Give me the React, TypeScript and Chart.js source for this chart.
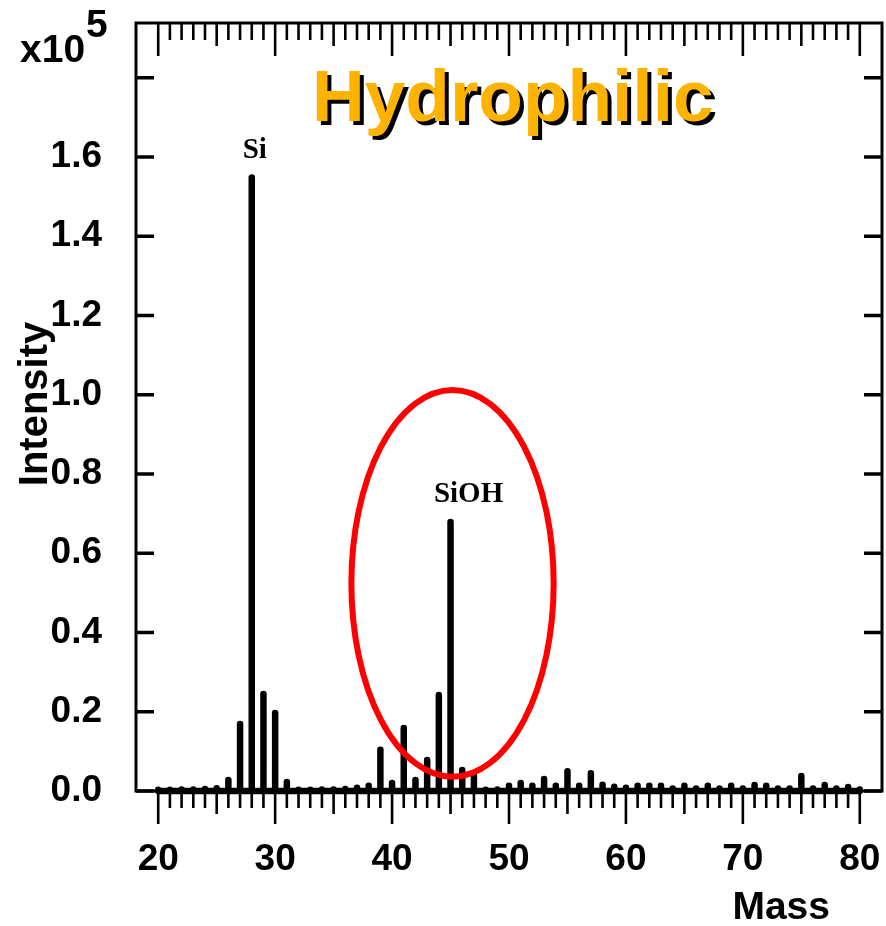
import React, { useEffect, useRef } from 'react';
import { Chart, registerables } from 'chart.js';

Chart.register(...registerables);

// Mass spectrum of the hydrophilic surface (intensity in units of 1e5)
const masses = [
  20, 21, 22, 23, 24, 25, 26, 27, 28, 29,
  30, 31, 32, 33, 34, 35, 36, 37, 38, 39,
  40, 41, 42, 43, 44, 45, 46, 47, 48, 49,
  50, 51, 52, 53, 54, 55, 56, 57, 58, 59,
  60, 61, 62, 63, 64, 65, 66, 67, 68, 69,
  70, 71, 72, 73, 74, 75, 76, 77, 78, 79,
  80,
];
const intensities = [
  0.003, 0.003, 0.004, 0.004, 0.005, 0.007, 0.028, 0.169, 1.548, 0.245,
  0.197, 0.023, 0.003, 0.003, 0.004, 0.004, 0.005, 0.008, 0.013, 0.104,
  0.020, 0.159, 0.028, 0.078, 0.242, 0.679, 0.053, 0.040, 0.003, 0.004,
  0.013, 0.020, 0.013, 0.030, 0.013, 0.050, 0.013, 0.045, 0.016, 0.011,
  0.008, 0.013, 0.013, 0.013, 0.006, 0.013, 0.006, 0.013, 0.006, 0.013,
  0.006, 0.015, 0.013, 0.006, 0.006, 0.038, 0.006, 0.015, 0.006, 0.010,
  0.004,
];

const xTickValues = [20, 30, 40, 50, 60, 70, 80];
const yTickValues = [0, 0.2, 0.4, 0.6, 0.8, 1.0, 1.2, 1.4, 1.6, 1.8];
const yLastLabelled = 1.6;

const peakLabels = [
  { text: 'Si', mass: 28 },
  { text: 'SiOH', mass: 45 },
];

const titleText = 'Hydrophilic';
const xTitle = 'Mass';
const yTitle = 'Intensity';
const multiplierBase = 'x10';
const multiplierExp = '5';

// highlighted region around the SiOH peak: centre and radii in data units
const highlight = { mass: 45.17, value: 0.524, massRadius: 8.65, valueRadius: 0.488 };

const SANS = "'Liberation Sans', Arial, Helvetica, sans-serif";
const SERIF = "'Liberation Serif', 'Times New Roman', Times, serif";

// each stick rises from the baseline and returns to it
const stickPath = masses.flatMap((m, i) => [
  { x: m, y: 0 },
  { x: m, y: intensities[i] },
  { x: m, y: 0 },
]);

const frameAndNotes = {
  id: 'frameAndNotes',
  afterDraw(chart: any) {
    const { ctx, chartArea: a } = chart;
    const xs = chart.scales.x;
    const ys = chart.scales.y;
    ctx.save();

    // red ellipse
    const cx = xs.getPixelForValue(highlight.mass);
    const cy = ys.getPixelForValue(highlight.value);
    const rx = xs.getPixelForValue(highlight.mass + highlight.massRadius) - cx;
    const ry = cy - ys.getPixelForValue(highlight.value + highlight.valueRadius);
    ctx.strokeStyle = '#ff0000';
    ctx.lineWidth = 6;
    ctx.beginPath();
    ctx.ellipse(cx, cy, rx, ry, 0, 0, Math.PI * 2);
    ctx.stroke();

    // frame
    ctx.strokeStyle = '#000';
    ctx.lineWidth = 3;
    ctx.strokeRect(a.left, a.top, a.right - a.left, a.bottom - a.top);

    // mass ticks: inward on top, outward below
    ctx.lineWidth = 2.6;
    ctx.lineCap = 'butt';
    for (let m = xTickValues[0]; m <= xTickValues[xTickValues.length - 1]; m++) {
      const len = m % 10 === 0 ? 33 : m % 5 === 0 ? 23 : 17;
      const px = xs.getPixelForValue(m);
      ctx.beginPath();
      ctx.moveTo(px, a.top);
      ctx.lineTo(px, a.top + len);
      ctx.moveTo(px, a.bottom);
      ctx.lineTo(px, a.bottom + len);
      ctx.stroke();
    }

    // intensity ticks on both sides, pointing inward
    ctx.lineWidth = 3.5;
    for (const v of yTickValues) {
      const py = ys.getPixelForValue(v);
      ctx.beginPath();
      ctx.moveTo(a.left, py);
      ctx.lineTo(a.left + 18, py);
      ctx.moveTo(a.right, py);
      ctx.lineTo(a.right - 18, py);
      ctx.stroke();
    }

    // peak labels
    ctx.fillStyle = '#000';
    ctx.font = `bold 29px ${SERIF}`;
    ctx.textBaseline = 'alphabetic';
    ctx.textAlign = 'center';
    peakLabels.forEach((p) => {
      const i = masses.indexOf(p.mass);
      const px = xs.getPixelForValue(p.mass);
      const py = ys.getPixelForValue(intensities[i]);
      const shift = p.text.length > 2 ? 18 : 3;
      ctx.fillText(p.text, px + shift, py - 20);
    });

    // title with drop shadow
    ctx.font = `bold 73px ${SANS}`;
    ctx.textAlign = 'left';
    ctx.fillStyle = '#000';
    ctx.fillText(titleText, 312 + 4, 121 + 4);
    ctx.fillStyle = '#fdb300';
    ctx.fillText(titleText, 312, 121);

    // scale multiplier
    ctx.fillStyle = '#000';
    ctx.font = `bold 39px ${SANS}`;
    ctx.fillText(multiplierBase, 20, 62);
    ctx.fillText(multiplierExp, 86, 37);

    // axis titles
    ctx.font = `bold 39px ${SANS}`;
    ctx.textAlign = 'right';
    ctx.fillText(xTitle, 830, 919);

    ctx.save();
    ctx.translate(47, 404);
    ctx.rotate(-Math.PI / 2);
    ctx.textAlign = 'center';
    ctx.font = `bold 40px ${SANS}`;
    ctx.fillText(yTitle, 0, 0);
    ctx.restore();

    ctx.restore();
  },
};

export default function App() {
  const ref = useRef<HTMLCanvasElement | null>(null);

  useEffect(() => {
    if (!ref.current) return;
    const tickFont = { family: SANS, size: 37, weight: 'bold' as const };
    const chart = new Chart(ref.current, {
      type: 'line',
      data: {
        datasets: [
          {
            data: stickPath,
            borderColor: '#000',
            borderWidth: 6.5,
            borderJoinStyle: 'round',
            borderCapStyle: 'round',
            pointRadius: 0,
            tension: 0,
            clip: false as any,
            fill: false,
          },
        ],
      },
      options: {
        animation: false,
        responsive: false,
        events: [],
        layout: { padding: { top: 23, right: 4, left: 0, bottom: 0 } },
        plugins: { legend: { display: false }, tooltip: { enabled: false } },
        scales: {
          x: {
            type: 'linear',
            min: 18.1,
            max: 81.9,
            afterFit: (s: any) => {
              s.height = 135;
              s.paddingLeft = 0;
              s.paddingRight = 0;
            },
            afterBuildTicks: (s: any) => {
              s.ticks = xTickValues.map((v) => ({ value: v }));
            },
            grid: { display: false, drawTicks: false },
            border: { display: false },
            ticks: {
              font: tickFont,
              color: '#000',
              padding: 47,
              maxRotation: 0,
              autoSkip: false,
              callback: (v: any) => String(v),
            },
          },
          y: {
            type: 'linear',
            min: 0,
            max: 1.938,
            afterFit: (s: any) => {
              s.width = 136;
              s.paddingTop = 0;
              s.paddingBottom = 0;
            },
            afterBuildTicks: (s: any) => {
              s.ticks = yTickValues.map((v) => ({ value: v }));
            },
            grid: { display: false, drawTicks: false },
            border: { display: false },
            ticks: {
              font: tickFont,
              color: '#000',
              padding: 34,
              autoSkip: false,
              callback: (v: any) => (Number(v) > yLastLabelled + 1e-6 ? '' : Number(v).toFixed(1)),
            },
          },
        },
      },
      plugins: [frameAndNotes],
    });
    return () => chart.destroy();
  }, []);

  return (
    <div style={{ position: 'absolute', left: 0, top: 0, width: 886, height: 926, background: '#fff' }}>
      <canvas ref={ref} width={886} height={926} style={{ display: 'block', width: 886, height: 926 }} />
    </div>
  );
}
